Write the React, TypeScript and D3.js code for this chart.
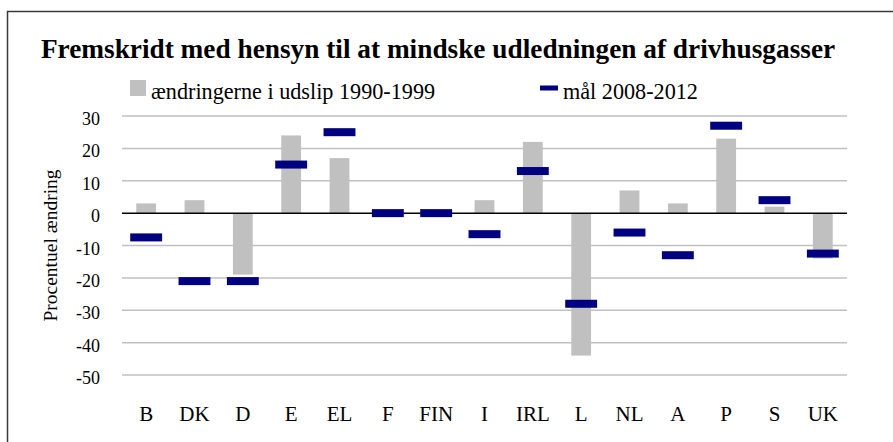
import { useEffect, useRef } from 'react';
import * as d3 from 'd3';

// Countries (EU-15)
const countries = ['B', 'DK', 'D', 'E', 'EL', 'F', 'FIN', 'I', 'IRL', 'L', 'NL', 'A', 'P', 'S', 'UK'];
// Emission change 1990-1999 (%)
const change1990to1999 = [3, 4, -19, 24, 17, 0, 0, 4, 22, -44, 7, 3, 23, 2, -14];
// Target 2008-2012 (%)
const target2008to2012 = [-7.5, -21, -21, 15, 25, 0, 0, -6.5, 13, -28, -6, -13, 27, 4, -12.5];
const yTicks = [30, 20, 10, 0, -10, -20, -30, -40, -50];

const FONT = "'Liberation Serif', 'Times New Roman', serif";

export default function App(): JSX.Element {
  const svgRef = useRef<SVGSVGElement>(null);

  useEffect(() => {
    if (!svgRef.current) return;
    const svg = d3.select(svgRef.current);
    svg.selectAll('*').remove();

    const W = 893;
    const H = 442;
    const plot = { left: 122, right: 847, top: 116, bottom: 375 };

    svg.attr('width', W).attr('height', H);

    // white background + outer frame (only top & left visible)
    svg.append('rect').attr('width', W).attr('height', H).attr('fill', '#fff');
    svg.append('path')
      .attr('d', `M7.5,${H} V11.5 H${W}`)
      .attr('fill', 'none')
      .attr('stroke', '#3a3a3a')
      .attr('stroke-width', 1.5);

    const x = d3.scaleBand<string>()
      .domain(countries)
      .range([plot.left, plot.right])
      .padding(0);
    const step = x.step();

    const y = d3.scaleLinear()
      .domain([-50, 30])
      .range([plot.bottom, plot.top]);

    // Title
    svg.append('text')
      .attr('x', 438)
      .attr('y', 58)
      .attr('text-anchor', 'middle')
      .style('font-family', FONT)
      .style('font-weight', 'bold')
      .style('font-size', '27.3px')
      .text('Fremskridt med hensyn til at mindske udledningen af drivhusgasser');

    // Legend
    svg.append('rect').attr('x', 130).attr('y', 80).attr('width', 16).attr('height', 16).attr('fill', '#c0c0c0');
    svg.append('text')
      .attr('x', 151).attr('y', 98.5)
      .style('font-family', FONT).style('font-size', '22.2px')
      .text('ændringerne i udslip 1990-1999');
    svg.append('rect').attr('x', 540).attr('y', 85.5).attr('width', 18).attr('height', 5).attr('fill', '#000080');
    svg.append('text')
      .attr('x', 563).attr('y', 98.5)
      .style('font-family', FONT).style('font-size', '22.2px')
      .text('mål 2008-2012');

    // Grid lines
    const g = svg.append('g');
    g.selectAll('.grid')
      .data(yTicks.filter(t => t !== 0))
      .enter()
      .append('line')
      .attr('x1', plot.left).attr('x2', plot.right)
      .attr('y1', d => y(d)).attr('y2', d => y(d))
      .attr('stroke', '#c0c0c0')
      .attr('stroke-width', 1.5);

    // Y tick labels
    g.selectAll('.ytick')
      .data(yTicks)
      .enter()
      .append('text')
      .attr('x', 100)
      .attr('y', d => y(d) + 9)
      .attr('text-anchor', 'end')
      .style('font-family', FONT)
      .style('font-size', '18px')
      .text(d => String(d));

    // Y axis label
    svg.append('text')
      .attr('transform', `translate(57,${(plot.top + plot.bottom) / 2}) rotate(-90)`)
      .attr('text-anchor', 'middle')
      .style('font-family', FONT)
      .style('font-size', '19.5px')
      .text('Procentuel ændring');

    // Bars
    const barW = step * 0.41;
    g.selectAll('.bar')
      .data(countries)
      .enter()
      .append('rect')
      .attr('x', (d) => (x(d) ?? 0) + (step - barW) / 2)
      .attr('y', (_, i) => Math.min(y(change1990to1999[i]), y(0)))
      .attr('width', barW)
      .attr('height', (_, i) => Math.abs(y(change1990to1999[i]) - y(0)))
      .attr('fill', '#c0c0c0');

    // Zero line
    g.append('line')
      .attr('x1', plot.left).attr('x2', plot.right)
      .attr('y1', y(0)).attr('y2', y(0))
      .attr('stroke', '#000')
      .attr('stroke-width', 1.5);

    // Target dashes
    const dashW = step * 0.66;
    const dashH = 8;
    g.selectAll('.dash')
      .data(countries)
      .enter()
      .append('rect')
      .attr('x', (d) => (x(d) ?? 0) + (step - dashW) / 2)
      .attr('y', (_, i) => y(target2008to2012[i]) - dashH / 2)
      .attr('width', dashW)
      .attr('height', dashH)
      .attr('fill', '#000080');

    // X labels
    g.selectAll('.xlabel')
      .data(countries)
      .enter()
      .append('text')
      .attr('x', d => (x(d) ?? 0) + step / 2)
      .attr('y', 421)
      .attr('text-anchor', 'middle')
      .style('font-family', FONT)
      .style('font-size', '21px')
      .text(d => d);
  }, []);

  return (
    <div style={{ position: 'absolute', left: 0, top: 0 }}>
      <svg ref={svgRef} style={{ display: 'block' }}></svg>
    </div>
  );
}
